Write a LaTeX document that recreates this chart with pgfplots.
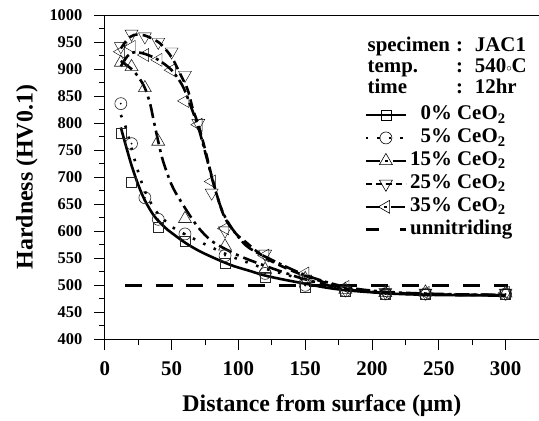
\documentclass[border=0pt]{standalone}
\usepackage{fontspec}
\setmainfont{Liberation Serif}
\usepackage{pgfplots}
\pgfplotsset{compat=1.18}

% open circle with a dot in the middle
\pgfdeclareplotmark{odot}{%
  \pgfpathcircle{\pgfpointorigin}{\pgfplotmarksize}\pgfusepathqstroke
  \pgfpathcircle{\pgfpointorigin}{1pt}\pgfusepathqfill}

\pgfplotstableread{
x    y
12   782
20   690
40   607
60   582
90   541
120  514
150  496
180  489
210  483
240  483
300  483
}\ceZero
\pgfplotstableread{
x    y
12   836
20   762
30   662
40   622
60   595
90   555
120  522
150  500
180  490
210  484
240  484
300  484
}\ceFive
\pgfplotstableread{
x    y
12   912
20   904
30   865
40   766
60   623
90   572
120  529
150  512
180  492
210  486
240  487
300  485
}\ceFifteen
\pgfplotstableread{
x    y
12   942
20   965
30   960
40   950
50   932
60   889
70   800
80   671
90   601
120  558
150  512
180  492
210  487
240  486
300  486
}\ceTwentyFive
\pgfplotstableread{
x    y
12   932
20   941
30   926
40   917
50   898
60   841
70   797
80   692
90   605
120  555
150  522
180  497
210  487
240  486
300  486
}\ceThirtyFive

\tikzset{
  fitline/.style={line width=2.6bp, black},
  pts/.style={only marks, mark options={solid, line width=0.6pt, draw=black!85, fill=none}},
}

\begin{document}
\begin{tikzpicture}
\begin{axis}[
  scale only axis,
  width=435bp, height=325bp,
  xmin=0, xmax=325, ymin=400, ymax=1000,
  xtick={0,50,...,300}, ytick={400,450,...,1000},
  minor x tick num=1, minor y tick num=1,
  tick align=outside,
  major tick length=11bp, minor tick length=6bp,
  every tick/.style={black, line width=0.8pt},
  axis x line*=bottom, axis y line*=left,
  axis line style={-, line width=0.9pt},
  /pgf/number format/assume math mode=true,
  /pgf/number format/1000 sep={},
  y tick label style={font=\fontsize{16.5}{19}\selectfont\bfseries, xshift=-8bp},
  x tick label style={font=\fontsize{21}{24}\selectfont\bfseries, yshift=-8bp},
  xlabel={Distance from surface (μm)},
  ylabel={Hardness (HV0.1)},
  label style={font=\fontsize{24}{28}\selectfont\bfseries},
  xlabel style={yshift=-12bp},
  ylabel shift=5bp,
  legend image code/.code={%
    \draw[mark repeat=2, mark phase=2, #1]
      plot coordinates {(0bp,0bp) (20bp,0bp) (40bp,0bp)};},
  legend cell align=left,
  legend style={
    at={(rel axis cs:0.598,0.72)}, anchor=north west,
    draw=none, fill=none, inner sep=0pt,
    font=\fontsize{21}{23}\selectfont\bfseries,
    nodes={inner sep=0pt, text height=14bp, text depth=4bp},
    row sep=5bp,
    /tikz/every odd column/.append style={column sep=3bp},
  },
  clip=false,
]
\coordinate (ll) at (rel axis cs:0,0);
\coordinate (ur) at (rel axis cs:1,1);
\draw[line width=0.9pt] (rel axis cs:0,1) -- (rel axis cs:1,1);

% measured points
\addplot[pts, mark=square, mark size=5bp, forget plot] table {\ceZero};
\addplot[pts, mark=odot, mark size=6bp, forget plot] table {\ceFive};
\addplot[pts, mark=triangle, mark size=7.5bp, forget plot] table {\ceFifteen};
\addplot[pts, mark=triangle, mark size=7.5bp, mark options={rotate=180}, forget plot] table {\ceTwentyFive};
\addplot[pts, mark=triangle, mark size=7.5bp, mark options={rotate=90}, forget plot] table {\ceThirtyFive};

% fitted curves
\addplot[fitline, smooth, forget plot] coordinates {
  (12,792) (15,765) (20,722) (25,686) (30,657) (37,628) (45,607) (50,597)
  (60,579) (71,563) (85,547) (96,536) (108,527) (120,518) (135,510) (150,503)
  (165,496) (180,491) (200,487) (220,484) (250,482) (300,481)};
\addplot[fitline, smooth, dash pattern=on 2.5bp off 9bp, forget plot] coordinates {
  (12,815) (16,790) (22,735) (26,702) (30,674) (35,650) (40,632) (51,607)
  (65,588) (80,570) (95,553) (106,543) (120,531) (150,510) (180,494)
  (210,487) (250,483) (300,482)};
\addplot[fitline, smooth, dash pattern=on 14bp off 5bp on 3bp off 5bp, forget plot] coordinates {
  (12,915) (20,900) (25,886) (30,865) (34,835) (37,800) (43,735) (50,686)
  (57,655) (69,610) (80,582) (95,561) (106,549) (120,536) (135,523)
  (150,511) (180,493) (210,486) (250,483) (300,482)};
\addplot[fitline, smooth, dash pattern=on 9bp off 5bp, forget plot] coordinates {
  (12,938) (17,955) (22,963) (30,962) (40,950) (46,935) (51,918) (56,893)
  (62,862) (66,825) (70,797) (75,752) (80,702) (85,658) (90,624) (98,596)
  (106,579) (120,551) (140,527) (160,509) (180,494) (210,486) (250,483) (300,482)};
\addplot[fitline, smooth, dash pattern=on 14bp off 4bp on 3bp off 4bp, forget plot] coordinates {
  (12,905) (17,924) (22,931) (30,928) (40,917) (50,898) (58,870) (63,840)
  (70,792) (76,738) (82,682) (88,637) (95,606) (106,573) (120,553)
  (150,519) (180,497) (210,488) (250,484) (300,482)};
\addplot[fitline, dash pattern=on 17bp off 13.8bp, forget plot] coordinates {
  (15,500) (302,500)};

\addlegendimage{fitline, mark=square, mark size=5bp, mark options={solid, line width=0.6pt, fill=none}}
\addlegendimage{fitline, dash pattern=on 2.5bp off 9bp, mark=odot, mark size=6bp, mark options={solid, line width=0.6pt, fill=white}}
\addlegendimage{fitline, dash pattern=on 14bp off 5bp on 3bp off 5bp, mark=triangle, mark size=7.5bp, mark options={solid, line width=0.6pt, fill=none}}
\addlegendimage{fitline, dash pattern=on 6bp off 4bp, mark=triangle, mark size=7.5bp, mark options={solid, rotate=180, line width=0.6pt, fill=white}}
\addlegendimage{fitline, dash pattern=on 14bp off 4bp on 3bp off 4bp, mark=triangle, mark size=7.5bp, mark options={solid, rotate=90, line width=0.6pt, fill=white}}
\addlegendimage{fitline, dash pattern=on 13bp off 21bp}
\legend{\phantom{1}0\% CeO\textsubscript{2}, \phantom{1}5\% CeO\textsubscript{2},
  15\% CeO\textsubscript{2}, 25\% CeO\textsubscript{2}, 35\% CeO\textsubscript{2}, unnitriding}

\node[anchor=north west, inner sep=0pt, font=\fontsize{21}{21.5}\selectfont\bfseries]
  at (rel axis cs:0.605,0.935) {%
  \begin{tabular}{@{}l@{\hspace{6bp}}c@{\hspace{12bp}}l@{}}
  specimen & : & JAC1\\
  temp.    & : & 540{\raisebox{1.5bp}{\fontsize{11}{11}\selectfont$\circ$}}C\\
  time     & : & 12hr
  \end{tabular}};
\end{axis}
\pgfresetboundingbox
\path ([shift={(-105bp,-81bp)}]ll) rectangle ([shift={(0bp,15bp)}]ur);
\end{tikzpicture}
\end{document}
